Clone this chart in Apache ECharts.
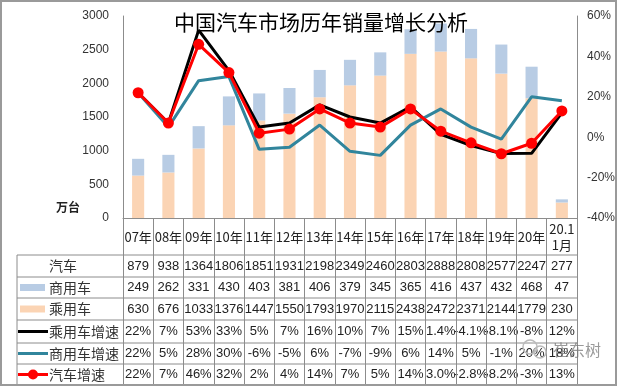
<!DOCTYPE html>
<html>
<head>
<meta charset="utf-8">
<script src="https://cdn.jsdelivr.net/npm/echarts@6/dist/echarts.min.js"></script>
<style>
html,body{margin:0;padding:0;background:#fff;}
#c{width:618px;height:387px;}
</style>
</head>
<body>
<div id="c"></div>
<script>
// ---- data ----
var categories = ['07年','08年','09年','10年','11年','12年','13年','14年','15年','16年','17年','18年','19年','20年','20.1\n1月'];
var totalSales = [879,938,1364,1806,1851,1931,2198,2349,2460,2803,2888,2808,2577,2247,277];
var commercial = [249,262,331,430,403,381,406,379,345,365,416,437,432,468,47];
var passenger = [630,676,1033,1376,1447,1550,1793,1970,2115,2438,2472,2371,2144,1779,230];
var passengerGrowth = ['22','7','53','33','5','7','16','10','7','15','1.4','-4.1','-8.1','-8','12'];
var commercialGrowth = ['22','5','28','30','-6','-5','6','-7','-9','6','14','5','-1','20','18'];
var totalGrowth = ['22','7','46','32','2','4','14','7','5','14','3.0','-2.8','-8.2','-3','13'];
var leftTicks = [0, 3000, 500];
var rightTicks = [-40, 60, 20];

var C_PASS = '#FBD4B4', C_COMM = '#B8CCE4', C_PG = '#000000', C_CG = '#31859C', C_TG = '#FF0000';
var FONT = '"Liberation Sans","Noto Sans CJK SC",sans-serif';
var CJK = '"Noto Sans CJK SC","Liberation Sans",sans-serif';
var GRID = '#8c8c8c';

var chart = echarts.init(document.getElementById('c'), null, {renderer:'canvas'});
chart.setOption({
  animation:false,
  backgroundColor:'#fff',
  title:{text:'中国汽车市场历年销量增长分析', left:316, top:7, textAlign:'center',
    textStyle:{fontFamily:CJK, fontSize:21, fontWeight:'normal', color:'#000'}},
  grid:{left:123, right:39, top:16, bottom:169, containLabel:false},
  xAxis:{type:'category', data:categories, boundaryGap:true,
    axisLine:{lineStyle:{color:GRID, width:1}},
    axisTick:{show:true, interval:0, alignWithLabel:false, length:167, lineStyle:{color:GRID, width:1}},
    axisLabel:{interval:0, margin:19, verticalAlign:'middle', lineHeight:16, fontSize:13, fontFamily:CJK, color:'#222'}
  },
  yAxis:[
    {type:'value', min:leftTicks[0], max:leftTicks[1], interval:leftTicks[2],
      axisLine:{show:true, lineStyle:{color:GRID}}, axisTick:{show:false}, splitLine:{show:false},
      axisLabel:{fontSize:12, fontFamily:FONT, color:'#333', margin:14, formatter:function(v){return String(v);}}},
    {type:'value', min:rightTicks[0], max:rightTicks[1], interval:rightTicks[2],
      axisLine:{show:true, lineStyle:{color:GRID}}, axisTick:{show:false}, splitLine:{show:false},
      axisLabel:{fontSize:12, fontFamily:FONT, color:'#333', margin:10, formatter:'{value}%'}}
  ],
  series:[
    {name:'乘用车', type:'bar', stack:'s', data:passenger, barWidth:'40%', itemStyle:{color:C_PASS}},
    {name:'商用车', type:'bar', stack:'s', data:commercial, barWidth:'40%', itemStyle:{color:C_COMM}},
    {name:'乘用车增速', type:'line', yAxisIndex:1, data:passengerGrowth.map(Number), symbol:'none',
      lineStyle:{color:C_PG, width:3}},
    {name:'商用车增速', type:'line', yAxisIndex:1, data:commercialGrowth.map(Number), symbol:'none',
      lineStyle:{color:C_CG, width:3}},
    {name:'汽车增速', type:'line', yAxisIndex:1, data:totalGrowth.map(Number), symbol:'circle', symbolSize:11,
      itemStyle:{color:C_TG}, lineStyle:{color:C_TG, width:3}}
  ]
});

// ---- table drawn from data arrays ----
var rowLines = [255,277,298,320,343,364,385];
var rows = [
  {label:'汽车', vals:totalSales.map(String), sym:null},
  {label:'商用车', vals:commercial.map(String), sym:'rect', color:C_COMM},
  {label:'乘用车', vals:passenger.map(String), sym:'rect', color:C_PASS},
  {label:'乘用车增速', vals:passengerGrowth.map(function(v){return v+'%';}), sym:'line', color:C_PG},
  {label:'商用车增速', vals:commercialGrowth.map(function(v){return v+'%';}), sym:'line', color:C_CG},
  {label:'汽车增速', vals:totalGrowth.map(function(v){return v+'%';}), sym:'dot', color:C_TG}
];
var xs = categories.map(function(c,i){ return chart.convertToPixel({xAxisIndex:0}, i); });
var xRight = xs[xs.length-1] + (xs[1]-xs[0])/2;
var g = [];
g.push({type:'rect', shape:{x:1,y:1,width:615,height:384}, style:{fill:'none', stroke:'#9a9a9a', lineWidth:2}, z:100});
g.push({type:'text', x:68, y:207, style:{text:'万台', fontSize:12, fontWeight:'bold', fontFamily:CJK, fill:'#222', textAlign:'center', textVerticalAlign:'middle'}});
rowLines.forEach(function(y){
  g.push({type:'line', shape:{x1:17,y1:y,x2:xRight,y2:y}, style:{stroke:GRID, lineWidth:1}});
});
g.push({type:'line', shape:{x1:17,y1:rowLines[0],x2:17,y2:rowLines[rowLines.length-1]}, style:{stroke:GRID, lineWidth:1}});
rows.forEach(function(r, ri){
  var yc = (rowLines[ri]+rowLines[ri+1])/2;
  if(!r.sym){
    g.push({type:'text', x:63, y:yc, style:{text:r.label, fontSize:14, fontFamily:CJK, fill:'#333', textAlign:'center', textVerticalAlign:'middle'}});
  } else {
    if(r.sym==='rect') g.push({type:'rect', shape:{x:20,y:yc-3.5,width:25,height:7}, style:{fill:r.color}});
    else {
      g.push({type:'line', shape:{x1:18,y1:yc,x2:48,y2:yc}, style:{stroke:r.color, lineWidth:3}});
      if(r.sym==='dot') g.push({type:'circle', shape:{cx:33,cy:yc,r:5}, style:{fill:r.color}});
    }
    g.push({type:'text', x:49, y:yc, style:{text:r.label, fontSize:14, fontFamily:CJK, fill:'#333', textAlign:'left', textVerticalAlign:'middle'}});
  }
  r.vals.forEach(function(v, i){
    g.push({type:'text', x:xs[i], y:yc, style:{text:v, fontSize:13, fontFamily:FONT, fill:'#222', textAlign:'center', textVerticalAlign:'middle'}});
  });
});
// watermark
g.push({type:'circle', shape:{cx:530,cy:347,r:7}, style:{fill:'none', stroke:'#bbb', lineWidth:1.5}, z:50});
g.push({type:'circle', shape:{cx:540,cy:352,r:6}, style:{fill:'none', stroke:'#bbb', lineWidth:1.5}, z:50});
g.push({type:'text', x:553, y:350, z:50, style:{text:'崔东树', fontSize:16, fontFamily:CJK, fill:'rgba(120,120,120,0.75)', textAlign:'left', textVerticalAlign:'middle'}});
chart.setOption({graphic:g});
</script>
</body>
</html>
